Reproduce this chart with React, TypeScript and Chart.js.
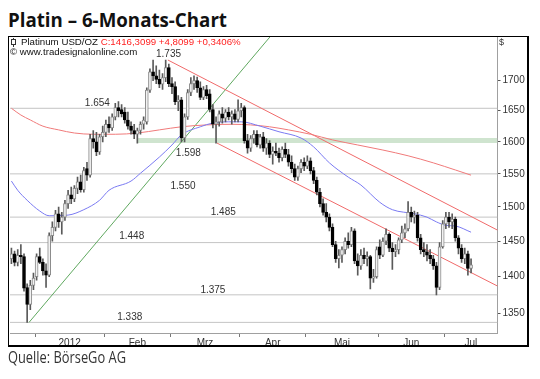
import React, { useEffect, useLayoutEffect, useRef } from 'react';
import { Chart, registerables } from 'chart.js';

Chart.register(...registerables);

// ---- Daily candles (trading-day index 0 = 21 Dec 2011) ----
const openP = [
  1425, 1432, 1420, 1430, 1428, 1385, 1362, 1388, 1400, 1428, 1420, 1408, 1402, 1458, 1470, 1490, 1478, 1485, 1505, 1518,
  1512, 1528, 1538, 1526, 1558, 1548, 1605, 1600, 1584, 1608, 1615, 1628, 1622, 1640, 1655, 1652, 1648, 1635, 1625, 1618,
  1612, 1618, 1628, 1632, 1684, 1715, 1708, 1702, 1694, 1705, 1722, 1695, 1690, 1665, 1668, 1606, 1640, 1680, 1695, 1700,
  1688, 1672, 1685, 1678, 1652, 1628, 1632, 1645, 1638, 1648, 1640, 1645, 1636, 1650, 1655, 1602, 1590, 1605, 1612, 1595,
  1608, 1590, 1598, 1580, 1585, 1582, 1575, 1588, 1580, 1568, 1558, 1545, 1558, 1568, 1562, 1570, 1555, 1540, 1522, 1505,
  1492, 1485, 1470, 1445, 1425, 1430, 1438, 1450, 1445, 1465, 1422, 1415, 1430, 1425, 1428, 1398, 1400, 1442, 1430, 1450,
  1460, 1440, 1435, 1438, 1452, 1462, 1468, 1492, 1485, 1488, 1455, 1438, 1435, 1430, 1425, 1415, 1385, 1442, 1475, 1485,
  1478, 1482, 1455, 1440, 1425, 1432, 1411.5,
];
const highP = [
  1440, 1436, 1438, 1445, 1432, 1390, 1395, 1405, 1432, 1440, 1425, 1418, 1462, 1478, 1495, 1500, 1492, 1510, 1525, 1530,
  1532, 1545, 1548, 1560, 1568, 1612, 1618, 1615, 1612, 1625, 1635, 1640, 1645, 1662, 1665, 1660, 1655, 1648, 1632, 1628,
  1622, 1632, 1640, 1688, 1720, 1735, 1725, 1718, 1712, 1735, 1728, 1705, 1698, 1675, 1672, 1645, 1685, 1705, 1708, 1706,
  1698, 1690, 1692, 1685, 1660, 1640, 1650, 1655, 1652, 1655, 1650, 1652, 1668, 1662, 1658, 1612, 1610, 1618, 1618, 1612,
  1615, 1605, 1602, 1592, 1598, 1590, 1592, 1598, 1588, 1578, 1565, 1562, 1572, 1575, 1578, 1575, 1560, 1545, 1528, 1512,
  1505, 1490, 1475, 1450, 1438, 1442, 1455, 1462, 1470, 1468, 1432, 1438, 1440, 1435, 1430, 1410, 1442, 1452, 1455, 1468,
  1462, 1448, 1445, 1455, 1472, 1475, 1508, 1500, 1494, 1492, 1460, 1448, 1445, 1438, 1430, 1420, 1448, 1480, 1492, 1492,
  1490, 1485, 1458, 1445, 1440, 1436, 1425,
];
const lowP = [
  1418, 1415, 1415, 1418, 1380, 1338, 1355, 1382, 1395, 1418, 1402, 1385, 1400, 1450, 1465, 1470, 1460, 1480, 1498, 1505,
  1508, 1520, 1522, 1522, 1540, 1545, 1590, 1578, 1580, 1600, 1608, 1615, 1618, 1635, 1640, 1640, 1630, 1620, 1612, 1605,
  1598, 1612, 1620, 1628, 1680, 1700, 1695, 1688, 1685, 1698, 1690, 1678, 1660, 1650, 1600, 1600, 1636, 1675, 1685, 1680,
  1668, 1668, 1670, 1648, 1622, 1598, 1625, 1630, 1632, 1635, 1628, 1632, 1632, 1640, 1598, 1582, 1585, 1598, 1592, 1590,
  1585, 1580, 1575, 1565, 1578, 1568, 1570, 1575, 1562, 1552, 1540, 1540, 1552, 1555, 1558, 1550, 1535, 1518, 1500, 1488,
  1478, 1465, 1442, 1420, 1412, 1420, 1432, 1440, 1442, 1418, 1402, 1410, 1418, 1415, 1383, 1392, 1398, 1425, 1428, 1445,
  1435, 1410, 1428, 1432, 1448, 1455, 1465, 1478, 1476, 1450, 1432, 1428, 1422, 1418, 1410, 1375, 1382, 1440, 1468, 1470,
  1468, 1450, 1432, 1420, 1418, 1402, 1405,
];
const closeP = [
  1432, 1420, 1430, 1428, 1384, 1362, 1388, 1398, 1428, 1420, 1408, 1402, 1458, 1470, 1490, 1478, 1485, 1505, 1518, 1512,
  1528, 1538, 1526, 1555, 1548, 1605, 1600, 1584, 1608, 1615, 1628, 1622, 1640, 1655, 1650, 1645, 1635, 1625, 1618, 1612,
  1618, 1628, 1635, 1684, 1715, 1708, 1702, 1694, 1705, 1722, 1695, 1690, 1665, 1668, 1606, 1640, 1680, 1695, 1700, 1688,
  1672, 1685, 1675, 1652, 1628, 1632, 1645, 1638, 1648, 1640, 1645, 1636, 1650, 1655, 1602, 1590, 1605, 1612, 1595, 1608,
  1590, 1598, 1580, 1585, 1582, 1575, 1588, 1580, 1568, 1558, 1545, 1558, 1568, 1562, 1570, 1555, 1540, 1522, 1505, 1492,
  1485, 1470, 1445, 1425, 1430, 1438, 1450, 1445, 1465, 1422, 1415, 1430, 1425, 1428, 1398, 1400, 1438, 1430, 1450, 1460,
  1440, 1435, 1438, 1452, 1462, 1468, 1492, 1485, 1488, 1455, 1438, 1435, 1430, 1425, 1415, 1385, 1442, 1475, 1485, 1478,
  1482, 1455, 1440, 1425, 1432, 1411.5, 1416.3,
];

// ---- Moving averages ----
const blueMaIdx = [0, 2, 5, 9, 12, 18, 23, 28, 31, 38, 41, 47, 51, 54, 60, 64, 69, 73, 79, 85, 92, 96, 101, 107, 111, 117, 121, 128, 132, 135, 138, 141, 146];
const blueMaVal = [1539, 1525, 1510, 1494, 1487, 1488, 1496, 1510, 1525, 1539, 1551, 1576, 1595, 1611, 1624, 1630, 1632, 1632, 1625, 1616, 1606, 1592, 1567, 1545, 1533, 1507, 1496, 1490, 1485, 1478, 1473, 1472, 1463];
const redMaIdx = [0, 3, 6, 10, 15, 20, 26, 33, 40, 47, 54, 62, 70, 76, 82, 88, 95, 102, 110, 118, 126, 134, 141, 146];
const redMaVal = [1654, 1643, 1635, 1625, 1619, 1614, 1612, 1612, 1614, 1619, 1624, 1627, 1628, 1627, 1624, 1619, 1612, 1603, 1595, 1587, 1578, 1567, 1556, 1548];

// ---- Trend lines ----
const upperTrendIdx = [49.7, 154.4];
const upperTrendVal = [1735, 1466];
const lowerTrendIdx = [65.3, 154.4];
const lowerTrendVal = [1598, 1387];
const greenTrendIdx = [5.6, 82.1];
const greenTrendVal = [1338, 1775];

// ---- Horizontal levels ----
const levelValues = [1654, 1550, 1485, 1448, 1375, 1338];
const bandLow = 1598;
const bandHigh = 1606;
const bandStartIdx = 40.2;

// ---- Level labels ----
const labelTexts = ['1.735', '1.654', '1.598', '1.550', '1.485', '1.448', '1.375', '1.338'];
const labelIdx = [49.9, 27.3, 56.2, 54.5, 67.3, 38.2, 64, 37.6];
const labelVal = [1735, 1654, 1598, 1550, 1485, 1448, 1375, 1338];

// ---- Axes ----
const monthLabels = ['2012', 'Feb', 'Mrz', 'Apr', 'Mai', 'Jun', 'Jul'];
const monthStarts = [7.5, 29.5, 50.5, 72.5, 93.5, 116.5, 137.5];
const yTickValues = [1350, 1400, 1450, 1500, 1550, 1600, 1650, 1700];
const X_MIN = -0.45;
const X_MAX = 154.4;
const Y_MIN = 1324;
const Y_MAX = 1775;

// layout-only offsets for the level labels (px, relative to level)
const labelDy = [-6, -5, 10, 12, -5, -6, -5, -5];

const FONT = '"Liberation Sans", Arial, sans-serif';

const monthMids = monthStarts.map((s, k) => (s + (k + 1 < monthStarts.length ? monthStarts[k + 1] : X_MAX)) / 2);

function FitText(props: { text: string; left: number; top: number; width: number; style: React.CSSProperties }) {
  const ref = useRef<HTMLSpanElement>(null);
  useLayoutEffect(() => {
    const el = ref.current;
    if (!el) return;
    el.style.transform = 'none';
    const w = el.getBoundingClientRect().width;
    if (w > 0) el.style.transform = `scaleX(${props.width / w})`;
  }, [props.text, props.width]);
  return (
    <span
      ref={ref}
      style={{ position: 'absolute', left: props.left, top: props.top, whiteSpace: 'nowrap', transformOrigin: '0 0', ...props.style }}
    >
      {props.text}
    </span>
  );
}

const levelLabelPlugin = {
  id: 'levelLabels',
  afterDatasetsDraw(chart: any) {
    const { ctx, scales } = chart;
    const x = scales.x;
    const y = scales.y;
    ctx.save();
    ctx.font = `10px ${FONT}`;
    ctx.fillStyle = '#333';
    ctx.textAlign = 'center';
    ctx.textBaseline = 'middle';
    labelTexts.forEach((t, k) => {
      ctx.fillText(t, x.getPixelForValue(labelIdx[k]), y.getPixelForValue(labelVal[k]) + labelDy[k]);
    });
    ctx.restore();
  },
};

export default function App() {
  const canvasRef = useRef<HTMLCanvasElement>(null);

  useEffect(() => {
    const canvas = canvasRef.current;
    if (!canvas) return;
    const idx = closeP.map((_, i) => i);
    const up = idx.map((i) => closeP[i] >= openP[i]);

    const lineDs = (data: { x: number; y: number }[], color: string, order: number, extra: any = {}) => ({
      type: 'line' as const,
      data,
      borderColor: color,
      borderWidth: 1,
      pointRadius: 0,
      fill: false,
      order,
      ...extra,
    });

    const datasets: any[] = [
      {
        type: 'bar',
        data: idx.map((i) => ({ x: i, y: [Math.min(openP[i], closeP[i]), Math.max(openP[i], closeP[i])] })),
        backgroundColor: idx.map((i) => (up[i] ? '#f2f2f2' : '#000000')),
        borderColor: idx.map((i) => (up[i] ? '#8a8a8a' : '#000000')),
        borderWidth: 1,
        borderSkipped: false,
        barThickness: 3,
        grouped: false,
        order: 0,
      },
      {
        type: 'bar',
        data: idx.map((i) => ({ x: i, y: [lowP[i], highP[i]] })),
        backgroundColor: '#5a5a5a',
        borderWidth: 0,
        barThickness: 1,
        grouped: false,
        order: 1,
      },
      lineDs(blueMaIdx.map((v, k) => ({ x: v, y: blueMaVal[k] })), '#7a7af2', 2, { cubicInterpolationMode: 'monotone' }),
      lineDs(redMaIdx.map((v, k) => ({ x: v, y: redMaVal[k] })), '#f07a7a', 2, { cubicInterpolationMode: 'monotone' }),
      lineDs(upperTrendIdx.map((v, k) => ({ x: v, y: upperTrendVal[k] })), '#f06a6a', 3),
      lineDs(lowerTrendIdx.map((v, k) => ({ x: v, y: lowerTrendVal[k] })), '#f06a6a', 3),
      lineDs(greenTrendIdx.map((v, k) => ({ x: v, y: greenTrendVal[k] })), '#5fa85f', 3),
      ...levelValues.map((lv) =>
        lineDs([{ x: X_MIN, y: lv }, { x: X_MAX, y: lv }], '#c4c4c4', 4)
      ),
      lineDs([{ x: bandStartIdx, y: bandHigh }, { x: X_MAX, y: bandHigh }], 'rgba(0,0,0,0)', 5, {
        fill: { value: bandLow },
        backgroundColor: '#cfe4cf',
        borderWidth: 0,
      }),
    ];

    const chart = new Chart(canvas, {
      type: 'bar',
      data: { datasets },
      options: {
        responsive: false,
        animation: false,
        events: [],
        layout: { padding: { left: 2, top: 1, right: 0, bottom: 0 } },
        plugins: { legend: { display: false }, tooltip: { enabled: false } },
        scales: {
          x: {
            type: 'linear',
            min: X_MIN,
            max: X_MAX,
            bounds: 'data',
            offset: false,
            grid: {
              offset: false,
              drawOnChartArea: false,
              tickLength: 4,
              tickColor: (c: any) =>
                c.tick && monthStarts.some((s) => Math.abs(s - c.tick.value) < 0.01) ? '#777' : 'rgba(0,0,0,0)',
            },
            border: { display: true, color: '#a0a0a0', dash: [1, 1] },
            ticks: {
              autoSkip: false,
              maxRotation: 0,
              minRotation: 0,
              padding: 0,
              color: '#333',
              font: { family: FONT, size: 10 },
              callback: (v: any) => {
                const k = monthMids.findIndex((m) => Math.abs(m - Number(v)) < 0.01);
                return k >= 0 ? monthLabels[k] : '';
              },
            },
            afterBuildTicks: (scale: any) => {
              scale.ticks = [...monthStarts, ...monthMids].sort((a, b) => a - b).map((v) => ({ value: v }));
            },
            afterFit: (scale: any) => {
              scale.height = 14;
              scale.paddingLeft = 0;
              scale.paddingRight = 0;
              scale.paddingTop = 0;
              scale.paddingBottom = 0;
            },
          } as any,
          y: {
            type: 'logarithmic',
            position: 'right',
            min: Y_MIN,
            max: Y_MAX,
            bounds: 'data',
            grid: { drawOnChartArea: false, tickLength: 3, tickColor: '#555' },
            border: { display: true, color: '#a0a0a0', dash: [1, 1] },
            ticks: {
              autoSkip: false,
              padding: 2,
              color: '#333',
              font: { family: FONT, size: 10 },
              callback: (v: any) => String(v),
            },
            afterBuildTicks: (scale: any) => {
              scale.ticks = yTickValues.map((v) => ({ value: v }));
            },
            afterFit: (scale: any) => {
              scale.width = 31.5;
              scale.paddingLeft = 0;
              scale.paddingRight = 0;
              scale.paddingTop = 0;
              scale.paddingBottom = 0;
            },
          } as any,
        },
      },
      plugins: [levelLabelPlugin],
    } as any);
    return () => chart.destroy();
  }, []);

  return (
    <div
      style={{
        position: 'absolute',
        left: 0,
        top: 0,
        width: 540,
        height: 379,
        background: '#fff',
        overflow: 'hidden',
        fontFamily: FONT,
      }}
    >
      <FitText
        text="Platin – 6-Monats-Chart"
        left={8}
        top={10}
        width={219}
        style={{ fontFamily: '"Open Sans", sans-serif', fontWeight: 700, fontSize: 20, lineHeight: '20px', color: '#111' }}
      />
      <div style={{ position: 'absolute', left: 8, top: 36, width: 521, height: 311 }}>
        <canvas ref={canvasRef} width={521} height={311} style={{ width: 521, height: 311, display: 'block' }} />
      </div>
      {/* legend */}
      <div style={{ position: 'absolute', left: 13, top: 38, width: 1, height: 9, background: '#333' }} />
      <div style={{ position: 'absolute', left: 12, top: 40, width: 3, height: 4, boxSizing: 'border-box', outline: '1px solid #333', background: '#fff' }} />
      <div style={{ position: 'absolute', left: 21, top: 36, fontSize: 9.7, lineHeight: '12px', whiteSpace: 'nowrap', color: '#111' }}>
        Platinum USD/OZ <span style={{ color: '#f22' }}>C:1416,3099 +4,8099 +0,3406%</span>
      </div>
      <div style={{ position: 'absolute', left: 10, top: 46, fontSize: 9.7, lineHeight: '12px', whiteSpace: 'nowrap', color: '#111' }}>
        © www.tradesignalonline.com
      </div>
      <div style={{ position: 'absolute', left: 499, top: 36, fontSize: 9, lineHeight: '12px', color: '#333' }}>$</div>
      {/* frame */}
      <div
        style={{
          position: 'absolute',
          left: 8,
          top: 36,
          width: 521,
          height: 311,
          boxSizing: 'border-box',
          borderLeft: '1px solid #000',
          borderTop: '1px solid #000',
          borderRight: '2px solid #000',
          borderBottom: '2px solid #000',
          pointerEvents: 'none',
        }}
      />
      <FitText
        text="Quelle: BörseGo AG"
        left={8}
        top={347}
        width={118}
        style={{ fontFamily: '"Open Sans", sans-serif', fontWeight: 400, fontSize: 16, lineHeight: '20px', color: '#333' }}
      />
    </div>
  );
}
